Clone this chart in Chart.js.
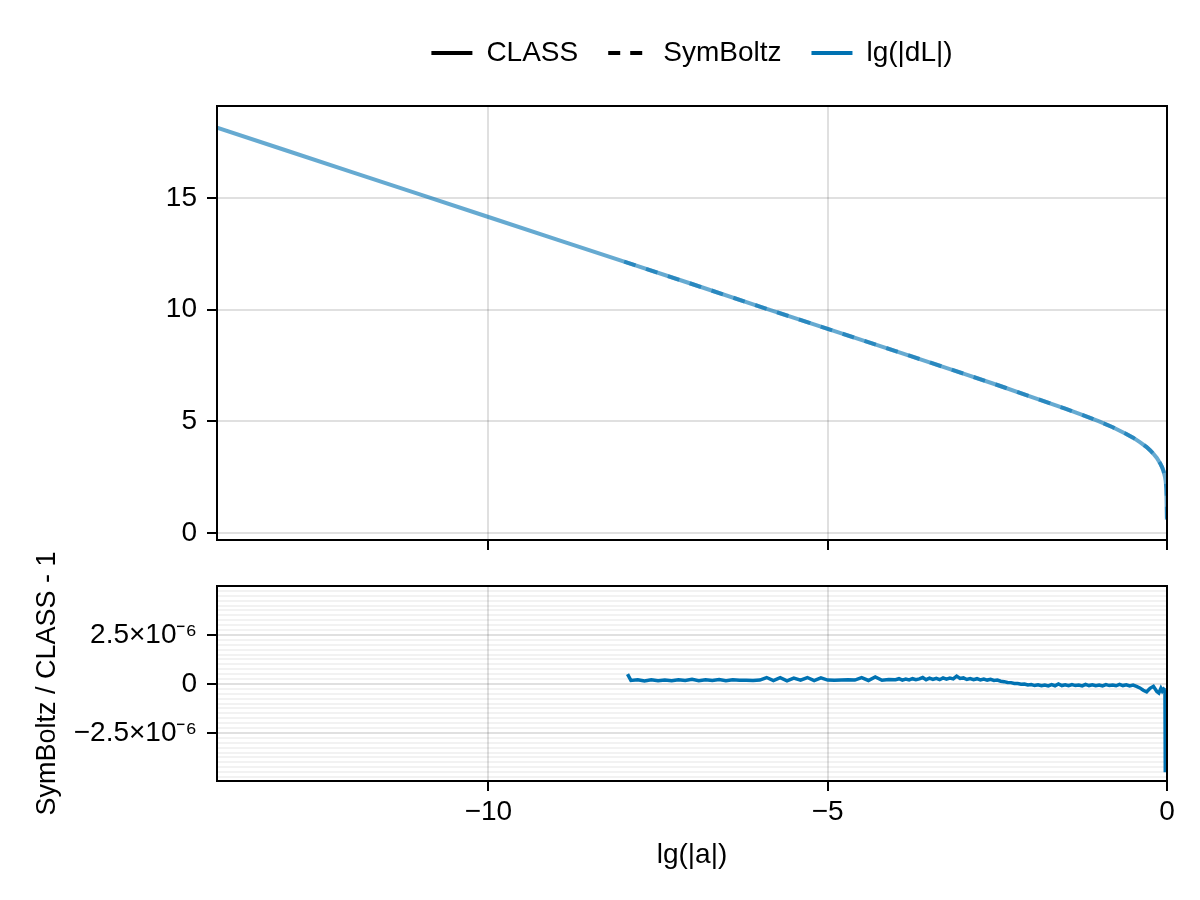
<!DOCTYPE html>
<html>
<head>
<meta charset="utf-8">
<script src="https://cdn.jsdelivr.net/npm/chart.js@4.4.1/dist/chart.umd.min.js"></script>
<style>
  body { margin: 0; background: #fff; }
  #wrap { position: relative; width: 1200px; height: 900px; }
  canvas { position: absolute; left: 0; }
  #top { top: 0; }
  #bottom { top: 500px; }
</style>
</head>
<body>
<div id="wrap">
  <canvas id="top" width="1200" height="560"></canvas>
  <canvas id="bottom" width="1200" height="400"></canvas>
</div>
<script>
// lg(|dL|) against lg(|a|), CLASS over the whole range, SymBoltz from -8
const classX = [-14, -13, -12, -11, -10, -9, -8, -7, -6, -5, -4, -3, -2.5, -2, -1.5, -1.25, -1, -0.8, -0.6, -0.5, -0.4, -0.3, -0.25, -0.2, -0.15, -0.1, -0.07, -0.05, -0.03, -0.02, -0.01, -0.005, -0.002, -0.001, -0.0005, -0.0004];
const classY = [18.15, 17.15, 16.15, 15.15, 14.15, 13.15, 12.15, 11.15, 10.14, 9.14, 8.15, 7.14, 6.63, 6.1, 5.57, 5.29, 5.0, 4.74, 4.44, 4.27, 4.07, 3.85, 3.71, 3.55, 3.36, 3.12, 2.93, 2.76, 2.52, 2.33, 2.02, 1.71, 1.31, 1.01, 0.71, 0.6];

const symX = [-8, -7, -6, -5, -4, -3, -2.5, -2, -1.5, -1.25, -1, -0.8, -0.6, -0.5, -0.4, -0.3, -0.25, -0.2, -0.15, -0.1, -0.07, -0.05, -0.03, -0.02, -0.01, -0.005, -0.002, -0.001, -0.0005, -0.0004];
const symY = [12.15, 11.15, 10.14, 9.14, 8.15, 7.14, 6.63, 6.1, 5.57, 5.29, 5.0, 4.74, 4.44, 4.27, 4.07, 3.85, 3.71, 3.55, 3.36, 3.12, 2.93, 2.76, 2.52, 2.33, 2.02, 1.71, 1.31, 1.01, 0.71, 0.6];

// SymBoltz / CLASS - 1, in units of 1e-6
const resX = [-7.95, -7.9, -7.8, -7.7, -7.6, -7.5, -7.4, -7.3, -7.2, -7.1, -7.0, -6.9, -6.8, -6.7, -6.6, -6.5, -6.4, -6.3, -6.2, -6.1,
  -6.0, -5.9, -5.8, -5.7, -5.6, -5.5, -5.4, -5.3, -5.2, -5.1, -5.0, -4.9, -4.8, -4.7, -4.6, -4.5, -4.4, -4.3, -4.2, -4.1, -4.0,
  -3.95, -3.9, -3.85, -3.8, -3.75, -3.7, -3.65, -3.6, -3.55, -3.5, -3.45, -3.4, -3.35, -3.3, -3.25, -3.2, -3.15, -3.1, -3.05, -3.0,
  -2.95, -2.9, -2.85, -2.8, -2.75, -2.7, -2.65, -2.6, -2.55, -2.5, -2.45, -2.4, -2.35, -2.3, -2.25, -2.2, -2.15, -2.1, -2.05, -2.0,
  -1.95, -1.9, -1.85, -1.8, -1.75, -1.7, -1.65, -1.6, -1.55, -1.5, -1.45, -1.4, -1.35, -1.3, -1.25, -1.2, -1.15, -1.1, -1.05, -1.0,
  -0.95, -0.9, -0.85, -0.8, -0.75, -0.7, -0.65, -0.6, -0.55, -0.5, -0.45, -0.4, -0.35, -0.3, -0.25, -0.2, -0.15, -0.12, -0.09, -0.07,
  -0.05, -0.035, -0.03, -0.025];
const resY = [0.50, 0.18, 0.22, 0.15, 0.21, 0.16, 0.20, 0.17, 0.22, 0.18, 0.24, 0.17, 0.22, 0.18, 0.23, 0.17, 0.21, 0.19, 0.19, 0.18,
  0.20, 0.33, 0.17, 0.32, 0.16, 0.30, 0.20, 0.33, 0.17, 0.31, 0.20, 0.19, 0.20, 0.21, 0.20, 0.32, 0.18, 0.36, 0.19, 0.23, 0.22,
  0.27, 0.20, 0.25, 0.21, 0.27, 0.22, 0.26, 0.33, 0.22, 0.30, 0.23, 0.29, 0.22, 0.31, 0.25, 0.30, 0.26, 0.40, 0.28, 0.31,
  0.23, 0.28, 0.22, 0.27, 0.21, 0.25, 0.20, 0.24, 0.18, 0.20, 0.14, 0.12, 0.08, 0.07, 0.03, 0.02, -0.01, 0.00, -0.05, -0.03,
  -0.08, -0.04, -0.09, -0.05, -0.10, -0.03, -0.09, 0.00, -0.08, -0.04, -0.09, -0.03, -0.08, -0.05, -0.10, -0.02, -0.08, -0.04, -0.09, -0.05,
  -0.10, -0.03, -0.08, -0.05, -0.09, -0.02, -0.08, -0.04, -0.10, -0.06, -0.12, -0.20, -0.32, -0.40, -0.22, -0.12, -0.38, -0.46, -0.22, -0.36,
  -0.26, -0.30, -0.32, -4.50];

const legendNames = ['CLASS', 'SymBoltz', 'lg(|dL|)'];
const legendColors = ['#000000', '#000000', '#0072B2'];
const legendDash = [[], [12, 10], []];

const xMin = -14, xMax = 0;
const blue = '#0072B2';
const blueFaded = 'rgba(0, 114, 178, 0.6)';
const gridColor = 'rgba(0, 0, 0, 0.12)';
const minorColor = 'rgba(0, 0, 0, 0.05)';

Chart.defaults.font.family = '"Liberation Sans", Arial, sans-serif';
Chart.defaults.font.size = 28;
Chart.defaults.color = '#000';

function points(xs, ys, scale) {
    return xs.map((x, i) => ({x: x, y: ys[i] * (scale || 1)}));
}

function minus(v) {
    return String(v).replace('-', '\u2212');
}

function noPad(scale) {
    scale.paddingLeft = 0;
    scale.paddingRight = 0;
    scale.paddingTop = 0;
    scale.paddingBottom = 0;
}

function isMajor(v) {
    let r = v / 2.5e-6;
    return Math.abs(r - Math.round(r)) < 1e-6 && Math.abs(v) < 4.9e-6;
}

// box round the plot area, like all four spines
const frame = {
    id: 'frame',
    afterDraw(chart) {
        const {ctx, chartArea: a} = chart;
        ctx.save();
        ctx.strokeStyle = '#000';
        ctx.lineWidth = 2;
        ctx.strokeRect(a.left, a.top, a.right - a.left, a.bottom - a.top);
        ctx.restore();
    }
};

// more room under the legend, and center it over the plot area
const legendSpot = {
    id: 'legendSpot',
    afterInit(chart) {
        const fit = chart.legend.fit;
        chart.legend.fit = function () {
            fit.call(this);
            this.height += 29;
        };
    },
    afterLayout(chart) {
        chart.legend.left = chart.chartArea.left;
        chart.legend.right = chart.chartArea.right;
        chart.legend.width = chart.chartArea.right - chart.chartArea.left;
    }
};

const gridOpts = {
    color: gridColor,
    lineWidth: 2,
    tickLength: 10,
    tickColor: '#000',
    tickWidth: 2
};

new Chart(document.getElementById('top'), {
    type: 'line',
    data: {
        datasets: [{
            label: 'CLASS',
            data: points(classX, classY),
            borderColor: blueFaded,
            borderWidth: 4,
            pointRadius: 0,
            fill: false
        }, {
            label: 'SymBoltz',
            data: points(symX, symY),
            borderColor: blueFaded,
            borderWidth: 4,
            borderDash: [12, 11],
            pointRadius: 0,
            fill: false
        }]
    },
    options: {
        responsive: false,
        animation: false,
        layout: {padding: {top: 9, right: 33, left: 0, bottom: 0}},
        scales: {
            x: {
                type: 'linear',
                min: xMin,
                max: xMax,
                ticks: {stepSize: 5, includeBounds: false, callback: () => ''},
                grid: gridOpts,
                border: {display: false},
                afterFit: s => { s.height = 20; noPad(s); }
            },
            y: {
                min: -0.31,
                max: 19.12,
                ticks: {stepSize: 5, includeBounds: false, padding: 10},
                grid: gridOpts,
                border: {display: false},
                afterFit: s => { s.width = 217; noPad(s); }
            }
        },
        plugins: {
            tooltip: {enabled: false},
            legend: {
                display: true,
                position: 'top',
                labels: {
                    usePointStyle: true,
                    pointStyleWidth: 41,
                    padding: 30,
                    color: '#000',
                    font: {size: 28},
                    generateLabels: () => legendNames.map((name, i) => ({
                        text: name,
                        strokeStyle: legendColors[i],
                        fillStyle: legendColors[i],
                        lineWidth: 4,
                        lineDash: legendDash[i],
                        pointStyle: 'line',
                        hidden: false
                    }))
                }
            }
        }
    },
    plugins: [frame, legendSpot]
});

new Chart(document.getElementById('bottom'), {
    type: 'line',
    data: {
        datasets: [{
            label: 'SymBoltz / CLASS - 1',
            data: points(resX, resY, 1e-6),
            borderColor: blue,
            borderWidth: 3.5,
            pointRadius: 0,
            fill: false
        }]
    },
    options: {
        responsive: false,
        animation: false,
        layout: {padding: {top: 86, right: 33, left: 0, bottom: 0}},
        scales: {
            x: {
                type: 'linear',
                min: xMin,
                max: xMax,
                ticks: {stepSize: 5, includeBounds: false, padding: 4, callback: v => minus(v)},
                grid: gridOpts,
                border: {display: false},
                title: {display: true, text: 'lg(|a|)', padding: {top: 0, bottom: 28}},
                afterFit: s => { s.height = 119; noPad(s); }
            },
            y: {
                min: -4.95e-6,
                max: 5e-6,
                ticks: {
                    stepSize: 0.25e-6,
                    includeBounds: false,
                    autoSkip: false,
                    maxTicksLimit: 100,
                    padding: 10,
                    callback: v => {
                        if (!isMajor(v)) return '';
                        if (Math.abs(v) < 1e-9) return '0';
                        return (v < 0 ? '\u2212' : '') + '2.5\u00d710\u207b\u2076';
                    }
                },
                grid: {
                    color: c => isMajor(c.tick.value) ? gridColor : minorColor,
                    lineWidth: 2,
                    tickLength: 10,
                    tickColor: c => isMajor(c.tick.value) ? '#000' : 'rgba(0,0,0,0)',
                    tickWidth: 2
                },
                border: {display: false},
                title: {display: true, text: 'SymBoltz / CLASS - 1', font: {size: 27}, padding: {top: 31, bottom: 0}},
                afterFit: s => { s.width = 217; noPad(s); }
            }
        },
        plugins: {
            tooltip: {enabled: false},
            legend: {display: false}
        }
    },
    plugins: [frame]
});
</script>
</body>
</html>
